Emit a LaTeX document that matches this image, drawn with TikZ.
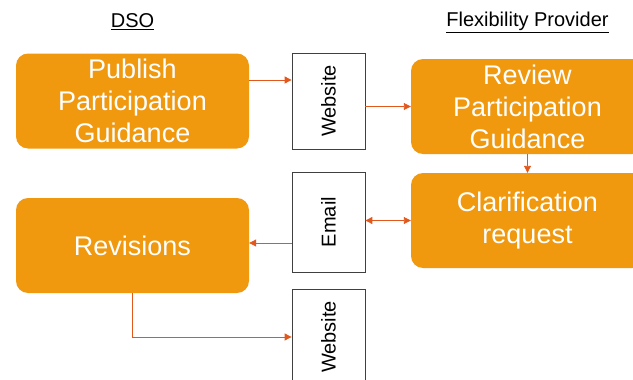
\documentclass[tikz,border=0pt]{standalone}
\usepackage{fontspec}
\setmainfont{Liberation Sans}
\usetikzlibrary{arrows.meta}
\definecolor{stepfill}{RGB}{240,152,14}
\definecolor{flowline}{RGB}{226,88,28}

\begin{document}
\begin{tikzpicture}[x=1pt, y=-1pt,
  stepbox/.style={fill=stepfill, rounded corners=12pt, text=white, inner sep=0pt,
    minimum width=233pt, minimum height=95pt, align=center,
    font=\fontsize{27}{32}\selectfont},
  channel/.style={draw=black!75, line width=0.8pt, fill=white, inner sep=0pt,
    minimum width=73pt, minimum height=96pt},
  chantext/.style={rotate=90, font=\fontsize{20}{24}\selectfont},
  flow/.style={draw=flowline, line width=0.9pt, -{Triangle[length=7pt,width=7pt]}}]
  \useasboundingbox (0,0) rectangle (633,380);
  \clip (0,0) rectangle (633,380);

  % lanes
  \node[font=\fontsize{20}{24}\selectfont] (dso) at (132.5,22) {\underline{DSO}};
  \node[font=\fontsize{20}{24}\selectfont] (fp) at (527.5,22) {\underline{Flexibility Provider}};

  % process steps
  \node[stepbox] (publish) at (132.5,101) {Publish\\Participation\\Guidance};
  \node[stepbox] (review) at (527.5,106.5) {Review\\Participation\\Guidance};
  \node[stepbox] (clarify) at (527.5,220.5) {Clarification\\request};
  \node[stepbox] (revise) at (132.5,245.5) {Revisions};

  % channels in between
  \node[channel] (web1) at (328.5,101) {};
  \node[chantext] at (web1) {Website};
  \node[channel, minimum height=100pt] (email) at (328.5,222) {};
  \node[chantext] at (email) {Email};
  \node[channel] (web2) at (328.5,337) {};
  \node[chantext] at (web2) {Website};

  \draw[flow] ([yshift=21pt]publish.east) -- ([yshift=21pt]web1.west);
  \draw[flow] (web1.east |- review.west) -- (review.west);
  \draw[flow] (review.south) -- (clarify.north);
  \draw[flow, {Triangle[length=7pt,width=7pt]}-{Triangle[length=7pt,width=7pt]}] (email.east |- clarify.west) -- (clarify.west);
  \draw[flow] ([yshift=-21pt]email.west) -- ([yshift=-21pt]email.west -| revise.east);
  \draw[flow] (revise.south) |- (web2.west);
\end{tikzpicture}
\end{document}
